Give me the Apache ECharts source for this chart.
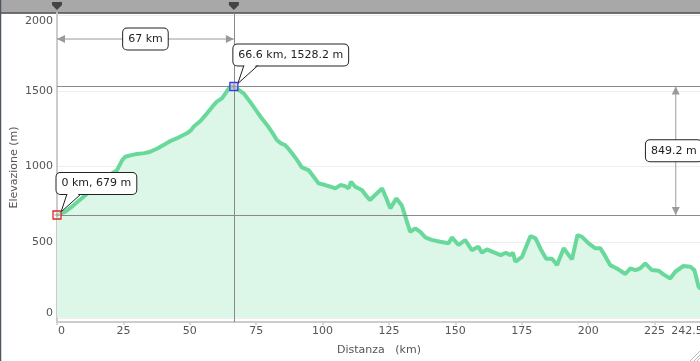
<!DOCTYPE html>
<html><head><meta charset="utf-8">
<script src="https://cdn.jsdelivr.net/npm/echarts/dist/echarts.min.js"></script>
<style>html,body{margin:0;padding:0;background:#fff}#c{width:700px;height:361px}</style>
</head><body><div id="c"></div>
<script>
// ---- data ----
const distanceKm = [0,3,6,10,13,16.3,20,22.6,24.5,25.7,28,30.1,33,35.1,38,40.1,42.7,45,48.9,50.5,51.4,54,56.5,58.5,60.2,62.1,63.5,65.2,66.6,
  68.5,70.3,73,75.3,77,79.1,81,82.8,84.5,85.9,87,88.5,90.5,92.2,94.7,96.5,98.5,101,103,104.8,106.7,108.5,109.8,110.7,112.3,114.8,116.5,117.9,
  120,122.4,124,125.5,127.8,129.9,131.5,133,134.9,136.8,138.7,141,144.3,147.4,148.7,151.2,153.7,156.2,158.7,160,161.9,164.5,167.1,169,170.7,
  171.7,172.6,175.1,178.3,180.2,182.1,184.2,186.4,188.3,190.8,193.9,196,197.7,200.2,202.7,204.6,205.8,208.3,210.8,214,215.9,217.8,219.6,
  221.5,224,226.5,228.5,230.9,232.8,235.9,238.5,240,241.6,242.5];
const elevationM = [679,700,740,800,845,888,945,976,1040,1064,1075,1082,1088,1097,1120,1141,1168,1185,1219,1240,1262,1300,1351,1395,1428,1450,1485,1527,1528.2,
  1505,1483,1420,1362,1320,1274,1225,1175,1150,1141,1120,1087,1040,994,976,935,888,877,866,855,877,870,855,899,866,844,805,778,
  815,855,790,723,789,740,650,568,591,568,531,515,502,492,531,481,514,447,469,430,452,432,414,430,414,
  430,370,403,540,525,455,390,390,348,459,386,547,535,492,459,459,426,348,326,289,326,315,326,
  359,315,311,285,260,304,342,337,315,205,190];
const xTickValues = [0,25,50,75,100,125,150,175,200,225,242.5];
const yTickValues = [0,500,1000,1500,2000];
const startPoint = [0, 679];
const peakPoint = [66.6, 1528.2];
const startLabel = '0 km, 679 m';
const peakLabel = '66.6 km, 1528.2 m';
const distLabel = '67 km';
const gainLabel = '849.2 m';
const pinKm = [0, 66.6];

const FONT = 'DejaVu Sans';
const chart = echarts.init(document.getElementById('c'), null, {renderer:'canvas'});

const callouts = [
  {pt: startPoint, text: startLabel, color: '#e02424', fill: 'rgba(255,255,255,0.5)'},
  {pt: peakPoint, text: peakLabel, color: '#3b3be0', fill: 'rgba(200,200,230,0.6)'}
];
const measures = [
  {from: [0, 1842], to: [66.6, 1842], text: distLabel, dx: 0},
  {from: [233, 679], to: [233, 1528.2], text: gainLabel, dx: -2}
];

function renderMeasure(params, api) {
  const m = measures[params.dataIndex];
  const a = api.coord(m.from), b = api.coord(m.to);
  const dx = b[0]-a[0], dy = b[1]-a[1], len = Math.hypot(dx, dy);
  const ux = dx/len, uy = dy/len, nx = -uy, ny = ux;
  const ah = 8, aw = 4;
  const head = (tip, d) => ({type:'polygon', shape:{points:[[tip[0],tip[1]],
      [tip[0]-d[0]*ah+nx*aw, tip[1]-d[1]*ah+ny*aw],[tip[0]-d[0]*ah-nx*aw, tip[1]-d[1]*ah-ny*aw]]},
      style:{fill:'#9a9a9a'}});
  const mid = [(a[0]+b[0])/2, (a[1]+b[1])/2];
  return {type:'group', children:[
    {type:'line', shape:{x1:a[0],y1:a[1],x2:b[0],y2:b[1]}, style:{stroke:'#9a9a9a', lineWidth:1}},
    head(a, [-ux,-uy]), head(b, [ux,uy]),
    {type:'text', x: mid[0] + m.dx, y: mid[1], style:{text:m.text, font:'11px "'+FONT+'"', fill:'#222', align:'center', verticalAlign:'middle',
      backgroundColor:'#fff', borderColor:'#222', borderWidth:1, borderRadius:4, padding:[5,5,5,5]}}
  ]};
}

function renderCallout(params, api) {
  const c = callouts[params.dataIndex];
  const p = api.coord(c.pt);
  const by = p[1] - 21;
  const apex = [p[0]+4, p[1]-3];
  const b1 = p[0]+10, b2 = p[0]+24;
  return {type:'group', children:[
    {type:'text', x: p[0]-0.5, y: by, style:{text:c.text, font:'11px "'+FONT+'"', fill:'#222', align:'left', verticalAlign:'bottom',
      backgroundColor:'#fff', borderColor:'#222', borderWidth:1, borderRadius:4, padding:[5,5,5,5]}},
    {type:'polygon', shape:{points:[[b1+0.8, by-1.5],[b2-0.8, by-1.5],apex]}, style:{fill:'#fff'}},
    {type:'polyline', shape:{points:[[b1, by],apex,[b2, by]]}, style:{stroke:'#222', lineWidth:1, fill:null}},
    {type:'rect', shape:{x:p[0]-4, y:p[1]-4, width:8, height:8}, style:{fill:c.fill, stroke:c.color, lineWidth:1.3}},
    {type:'line', shape:{x1:p[0]-2.5, y1:p[1], x2:p[0]+2.5, y2:p[1]}, style:{stroke:'#999', lineWidth:1}},
    {type:'line', shape:{x1:p[0], y1:p[1]-2.5, x2:p[0], y2:p[1]+2.5}, style:{stroke:'#999', lineWidth:1}}
  ]};
}

function renderPin(params, api) {
  const x = api.coord([api.value(0), 0])[0];
  return {type:'polygon', shape:{points:[[x-5,2],[x+5,2],[x+5,5],[x,10],[x-5,5]]}, style:{fill:'#444'}};
}

const lbl = {color:'#555', fontSize:11, fontFamily:FONT};

chart.setOption({
  animation: false,
  backgroundColor: '#fff',
  graphic: [
    {type:'rect', shape:{x:0, y:0, width:700, height:12.5}, style:{fill:'#a8a8a8'}, z:0},
    {type:'line', shape:{x1:0, y1:13, x2:700, y2:13}, style:{stroke:'#444', lineWidth:1.5}, z:0},
    {type:'line', shape:{x1:0.5, y1:0, x2:0.5, y2:361}, style:{stroke:'#4f5660', lineWidth:1.5}, z:0},
    {type:'line', shape:{x1:690, y1:361, x2:700, y2:351}, style:{stroke:'#bbb', lineWidth:1}, z:0},
    {type:'line', shape:{x1:694, y1:361, x2:700, y2:355}, style:{stroke:'#bbb', lineWidth:1}, z:0},
    {type:'line', shape:{x1:697, y1:361, x2:700, y2:358}, style:{stroke:'#bbb', lineWidth:1}, z:0}
  ],
  grid: {left:57, right:-1, top:13, bottom:39, containLabel:false, outerBoundsMode:'none'},
  xAxis: {
    type:'value', min:0, max:242.5,
    name:'Distanza   (km)', nameLocation:'middle', nameGap:23, nameMoveOverlap:false,
    nameTextStyle:{color:'#555', fontSize:11, fontFamily:FONT},
    axisLine:{show:true, onZero:false, lineStyle:{color:'#cccccc', width:2}},
    axisTick:{show:true, length:3, customValues:xTickValues, lineStyle:{color:'#cccccc', width:1.5}},
    splitLine:{show:false},
    axisLabel:{customValues:xTickValues, margin:4, ...lbl,
      formatter: v => v === 0 ? '{first|0}' : (v === 242.5 ? '{last|242.5}' : String(v)),
      rich:{first:{...lbl, padding:[0,0,0,9]}, last:{...lbl, padding:[0,28,0,0]}}}
  },
  yAxis: {
    type:'value', min:-28, max:2014,
    name:'Elevazione (m)', nameLocation:'middle', nameGap:37, nameMoveOverlap:false,
    nameTextStyle:{color:'#555', fontSize:11, fontFamily:FONT},
    axisLine:{show:true, lineStyle:{color:'#cccccc', width:2}},
    axisTick:{show:false, customValues:yTickValues},
    splitLine:{show:true, lineStyle:{color:'#eeeeee', width:1}},
    axisLabel:{customValues:yTickValues, margin:4, ...lbl,
      formatter: v => v === 2000 ? '{top|2000}' : (v === 0 ? '{bot|0}' : String(v)),
      rich:{top:{...lbl, padding:[13,0,0,0]}, bot:{...lbl, padding:[0,0,9,0]}}}
  },
  series: [
    {
      type:'line', data: distanceKm.map((d,i)=>[d, elevationM[i]]),
      showSymbol:false, smooth:false,
      lineStyle:{color:'#69d99b', width:4},
      itemStyle:{color:'#69d99b'},
      areaStyle:{color:'#dcf6e8', opacity:1},
      markLine:{silent:true, symbol:'none', animation:false,
        lineStyle:{color:'#8a8a8a', width:1, type:'solid'}, label:{show:false},
        data:[{yAxis: peakPoint[1]}, {yAxis: startPoint[1]}, {xAxis: peakPoint[0]}]},
      z:2
    },
    {type:'custom', renderItem: renderMeasure, data: measures.map((m,i)=>[i]), z:5, silent:true},
    {type:'custom', renderItem: renderCallout, data: callouts.map((c,i)=>[i]), z:6, silent:true},
    {type:'custom', renderItem: renderPin, data: pinKm.map(v=>[v]), z:7, silent:true, clip:false}
  ]
});
</script>
</body></html>
